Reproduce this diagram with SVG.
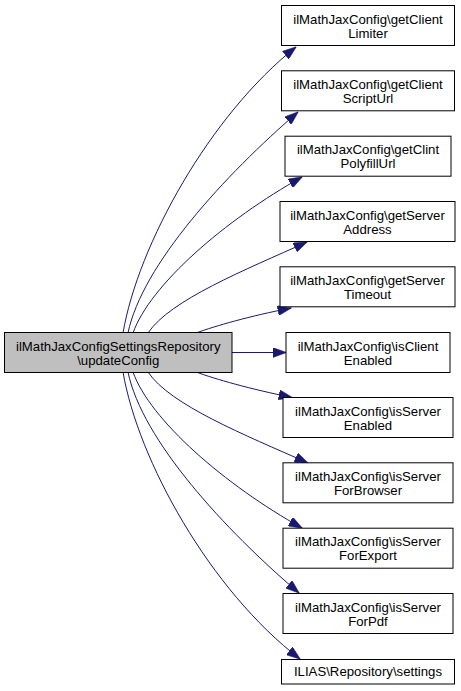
<svg xmlns="http://www.w3.org/2000/svg" width="461" height="691" viewBox="0 0 461 691">
<style>
.n rect{fill:#ffffff;stroke:#000000;stroke-width:1}
.root rect{fill:#bfbfbf}
text{font-family:"Liberation Sans",Arial,sans-serif;font-size:13.2px;fill:#000000;text-anchor:middle}
.e path{fill:none;stroke:#191970;stroke-width:1;marker-end:url(#ah)}
</style>
<defs>
<marker id="ah" markerUnits="userSpaceOnUse" markerWidth="14" markerHeight="10" viewBox="0 0 13 9.4" refX="12.5" refY="4.7" orient="auto">
<path d="M0,0 L13,4.7 L0,9.4 z" fill="#191970" stroke="#191970" stroke-width="0.5"/>
</marker>
</defs>
<rect width="461" height="691" fill="#ffffff"/>
<g id="edges" class="e">
<path d="M123,333 C138,245 210,115 296,47"/>
<path d="M128,333 C142,265 225,175 298,112"/>
<path d="M133,333 C150,285 225,220 302,177"/>
<path d="M148,333 C170,300 245,270 307,242"/>
<path d="M196,333 C215,326 250,316 291,308"/>
<path d="M232,352.5 L286,352.5"/>
<path d="M196,372 C215,379 250,389 292,397.5"/>
<path d="M148,372 C170,405 245,435 308,463"/>
<path d="M133,372 C150,420 225,485 302,528"/>
<path d="M128,372 C142,440 225,530 299,593"/>
<path d="M123,372 C138,460 210,590 300,659"/>
</g>
<g id="root" class="n root">
<rect x="4.5" y="332.5" width="227.5" height="40"/>
<text x="118.25" y="350.5">ilMathJaxConfigSettingsRepository</text>
<text x="118.25" y="364.5">\updateConfig</text>
</g>
<g id="n1" class="n">
<rect x="281.5" y="5.5" width="173" height="40"/>
<text x="368" y="23.5">ilMathJaxConfig\getClient</text>
<text x="368" y="37.5">Limiter</text>
</g>
<g id="n2" class="n">
<rect x="281.5" y="70.8" width="173" height="40"/>
<text x="368" y="88.8">ilMathJaxConfig\getClient</text>
<text x="368" y="102.8">ScriptUrl</text>
</g>
<g id="n3" class="n">
<rect x="285" y="136.2" width="166" height="40"/>
<text x="368" y="154.2">ilMathJaxConfig\getClint</text>
<text x="368" y="168.2">PolyfillUrl</text>
</g>
<g id="n4" class="n">
<rect x="280" y="201.5" width="175" height="40"/>
<text x="367.5" y="219.5">ilMathJaxConfig\getServer</text>
<text x="367.5" y="233.5">Address</text>
</g>
<g id="n5" class="n">
<rect x="280" y="266.8" width="175" height="40"/>
<text x="367.5" y="284.8">ilMathJaxConfig\getServer</text>
<text x="367.5" y="298.8">Timeout</text>
</g>
<g id="n6" class="n">
<rect x="286" y="332.5" width="164" height="40"/>
<text x="368" y="350.5">ilMathJaxConfig\isClient</text>
<text x="368" y="364.5">Enabled</text>
</g>
<g id="n7" class="n">
<rect x="283" y="397.5" width="170" height="40"/>
<text x="368" y="415.5">ilMathJaxConfig\isServer</text>
<text x="368" y="429.5">Enabled</text>
</g>
<g id="n8" class="n">
<rect x="283" y="462.8" width="170" height="40"/>
<text x="368" y="480.8">ilMathJaxConfig\isServer</text>
<text x="368" y="494.8">ForBrowser</text>
</g>
<g id="n9" class="n">
<rect x="283" y="528.2" width="170" height="40"/>
<text x="368" y="546.2">ilMathJaxConfig\isServer</text>
<text x="368" y="560.2">ForExport</text>
</g>
<g id="n10" class="n">
<rect x="283" y="593.5" width="170" height="40"/>
<text x="368" y="611.5">ilMathJaxConfig\isServer</text>
<text x="368" y="625.5">ForPdf</text>
</g>
<g id="n11" class="n">
<rect x="281.5" y="659.5" width="173" height="24.5"/>
<text x="368" y="676">ILIAS\Repository\settings</text>
</g>
</svg>
